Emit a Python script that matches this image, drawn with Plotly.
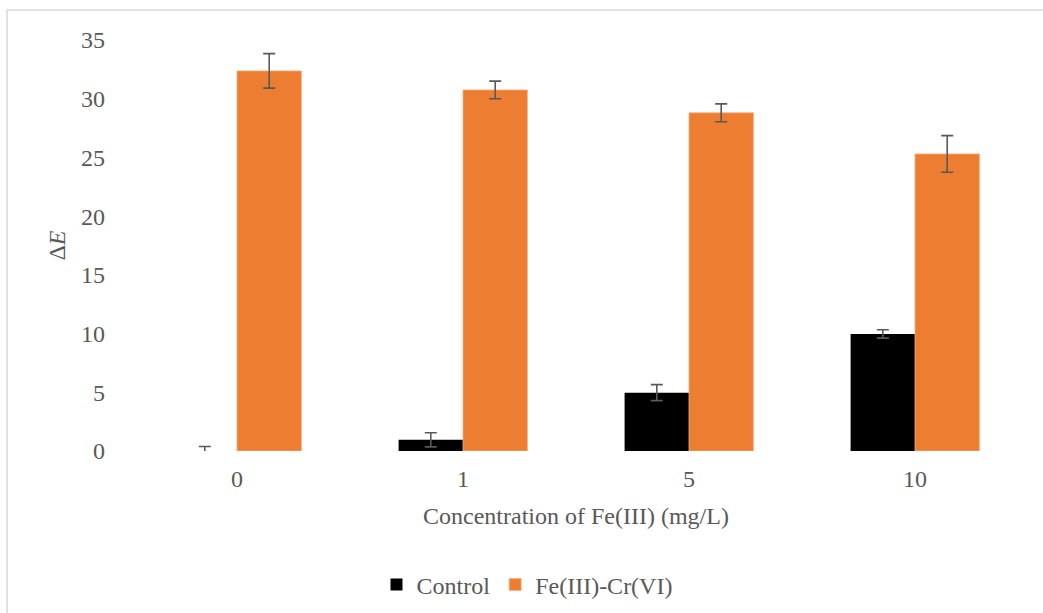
import plotly.graph_objects as go

categories = ["0", "1", "5", "10"]
control_vals = [0.0, 0.95, 4.97, 9.97]
control_err = [0.38, 0.6, 0.68, 0.36]
fecr_vals = [32.37, 30.75, 28.8, 25.3]
fecr_err = [1.47, 0.75, 0.76, 1.56]

font_family = "Liberation Serif, Times New Roman, serif"
text_color = "#595959"

fig = go.Figure()
fig.add_trace(go.Bar(
    name="Control", x=categories, y=control_vals,
    marker=dict(color="#000000", line=dict(width=0)),
    error_y=dict(type="data", array=control_err, visible=True,
                 color=text_color, thickness=1.6, width=6),
))
fig.add_trace(go.Bar(
    name="Fe(III)-Cr(VI)", x=categories, y=fecr_vals,
    marker=dict(color="#ED7D31", line=dict(color="#f4b183", width=0.8)),
    error_y=dict(type="data", array=fecr_err, visible=True,
                 color=text_color, thickness=1.6, width=6),
))

fig.update_layout(
    width=1043, height=613,
    margin=dict(l=124, r=15, t=40, b=162, autoexpand=False),
    paper_bgcolor="white", plot_bgcolor="white",
    barmode="group", bargap=0.43, bargroupgap=0,
    font=dict(family=font_family, size=24, color=text_color),
    showlegend=True,
    legend=dict(orientation="h", xref="container", x=527 / 1043, xanchor="center",
                yref="container", y=1 - 585 / 613, yanchor="middle",
                font=dict(size=24, color=text_color), itemwidth=30,
                traceorder="normal"),
    xaxis=dict(
        type="category", showgrid=False, showline=False, ticks="",
        ticklabelstandoff=11, automargin=False,
        title=dict(text="Concentration of Fe(III) (mg/L)", standoff=16,
                   font=dict(size=24, color=text_color)),
        tickfont=dict(size=24, color=text_color),
    ),
    yaxis=dict(
        range=[0, 35], dtick=5, showgrid=False, showline=False, ticks="",
        zeroline=False, ticklabelstandoff=18, automargin=False,
        title=dict(text="Δ<i>E</i>", standoff=8, font=dict(size=24, color=text_color)),
        tickfont=dict(size=24, color=text_color),
    ),
    shapes=[dict(type="rect", xref="paper", yref="paper",
                 x0=(7 - 124) / (1043 - 139), x1=1.05,
                 y0=-0.6, y1=1 + (40 - 10) / 411,
                 line=dict(color="#d9d9d9", width=1.5), fillcolor="rgba(0,0,0,0)",
                 layer="below")],
)

fig.write_html("out.html")
